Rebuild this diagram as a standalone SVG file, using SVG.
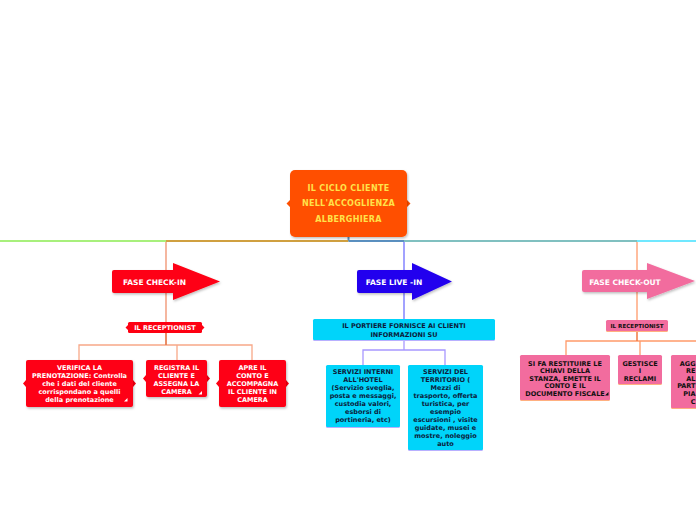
<svg xmlns="http://www.w3.org/2000/svg" width="696" height="520" viewBox="0 0 696 520">
<defs>
<filter id="sh" x="-10%" y="-10%" width="130%" height="140%"><feDropShadow dx="1" dy="1.5" stdDeviation="1" flood-color="#000" flood-opacity="0.25"/></filter>
<clipPath id="c1"><rect x="26" y="360" width="107" height="43"/></clipPath>
</defs>
<style>
text{font-family:"DejaVu Sans","Liberation Sans",sans-serif;font-weight:bold;text-anchor:middle}
.t{font-size:6.5px}
.w{fill:#ffffff}
.k{fill:#101010}
.n{fill:#0c1c3c}
.ar{font-size:7.5px;fill:#ffffff}
.title{font-size:8px;fill:#ffe24a;letter-spacing:0.3px}
.red{fill:#fe0012}
.cy{fill:#00d4fa}
.pk{fill:#f26c9e}
.lr{stroke:#f8a888;stroke-width:1.3;fill:none}
.lc{stroke:#a898ff;stroke-width:1.3;fill:none}
.lp{stroke:#ff9a6a;stroke-width:1.3;fill:none}
.e{text-anchor:end}
</style>
<rect width="696" height="520" fill="#ffffff"/>
<g id="connectors" fill="none">
<line x1="348.5" y1="237" x2="348.5" y2="241" stroke="#5a90c0" stroke-width="2"/>
<line x1="0" y1="241" x2="166" y2="241" stroke="#a8f07c" stroke-width="2"/>
<line x1="166" y1="241" x2="348.5" y2="241" stroke="#d0a040" stroke-width="2"/>
<line x1="348.5" y1="241" x2="404" y2="241" stroke="#5a90c0" stroke-width="2"/>
<line x1="404" y1="241" x2="637" y2="241" stroke="#80c0c0" stroke-width="2"/>
<line x1="637" y1="241" x2="696" y2="241" stroke="#70e8ff" stroke-width="2"/>
<line x1="166" y1="242" x2="166" y2="322" stroke="#f0906c" stroke-width="1.3"/>
<line x1="404" y1="242" x2="404" y2="319" stroke="#7070ff" stroke-width="1.3"/>
<line x1="637" y1="242" x2="637" y2="320" stroke="#ff9a6a" stroke-width="1.3"/>
<path class="lr" d="M166,333 V345 M79,360 V345 H252 V360 M177,345 V360"/>
<line x1="166" y1="333" x2="166" y2="345" stroke="#e07040" stroke-width="1.3"/>
<path class="lc" d="M404,340 V350 M363,365 V350 H445 V365"/>
<path class="lp" d="M566,355 V341 H700 M640,341 V355"/>
<line x1="637" y1="331" x2="637" y2="341" stroke="#f07840" stroke-width="1.5"/>
</g>
<g id="main">
<path d="M290,200 L286.5,203.5 L290,207 Z M407,200 L410.5,203.5 L407,207 Z" fill="#ff5000"/>
<rect x="290" y="170" width="117" height="67" rx="5" fill="#ff5000" filter="url(#sh)"/>
<text class="title" x="348.5" y="191">IL CICLO CLIENTE</text>
<text class="title" x="348.5" y="206">NELL'ACCOGLIENZA</text>
<text class="title" x="348.5" y="222">ALBERGHIERA</text>
</g>
<g id="fase-checkin">
<path d="M114,270 H173 V263 L220,281.5 L173,300 V293 H114 Q112,293 112,291 V272 Q112,270 114,270 Z" class="red" filter="url(#sh)"/>
<text class="ar" x="154.5" y="284.5">FASE CHECK-IN</text>
</g>
<g id="receptionist-1">
<path d="M128,325 L125.5,327.5 L128,330 Z M202,325 L204.5,327.5 L202,330 Z" class="red"/>
<rect x="128" y="322" width="74" height="11" rx="1.5" class="red"/>
<text class="t w" x="165" y="330">IL RECEPTIONIST</text>
</g>
<g id="verifica">
<path d="M26,380 L23,383.5 L26,387 Z M133,380 L136,383.5 L133,387 Z" class="red"/>
<rect x="26" y="360" width="107" height="47" rx="2" class="red" filter="url(#sh)"/>
<g clip-path="url(#c1)">
<text class="t w" x="79.5" y="370">VERIFICA LA</text>
<text class="t w" x="79.5" y="378">PRENOTAZIONE: Controlla</text>
<text class="t w" x="79.5" y="386">che i dati del cliente</text>
<text class="t w" x="79.5" y="394">corrispondano a quelli</text>
<text class="t w" x="79.5" y="402">della prenotazione</text>
</g>
<path d="M127.5,398 V401.5 H124 Z" fill="#ffffff"/>
</g>
<g id="registra">
<path d="M146,375 L143,378.5 L146,382 Z M207,375 L210,378.5 L207,382 Z" class="red"/>
<rect x="146" y="360" width="61" height="37" rx="2" class="red" filter="url(#sh)"/>
<text class="t w" x="176.5" y="370">REGISTRA IL</text>
<text class="t w" x="176.5" y="378">CLIENTE E</text>
<text class="t w" x="176.5" y="386">ASSEGNA LA</text>
<text class="t w" x="176.5" y="394">CAMERA</text>
<path d="M202,391 V394.5 H198.5 Z" fill="#ffffff"/>
</g>
<g id="apre">
<path d="M219,380 L216,383.5 L219,387 Z M286,380 L289,383.5 L286,387 Z" class="red"/>
<rect x="219" y="360" width="67" height="47" rx="2" class="red" filter="url(#sh)"/>
<text class="t w" x="252.5" y="370">APRE IL</text>
<text class="t w" x="252.5" y="378">CONTO  E</text>
<text class="t w" x="252.5" y="386">ACCOMPAGNA</text>
<text class="t w" x="252.5" y="394">IL CLIENTE IN</text>
<text class="t w" x="252.5" y="402">CAMERA</text>
</g>
<g id="fase-livein">
<path d="M359,270 H412 V263 L452,281.5 L412,300 V293 H359 Q357,293 357,291 V272 Q357,270 359,270 Z" fill="#2200ee" filter="url(#sh)"/>
<text class="ar" x="394" y="284.5">FASE LIVE -IN</text>
</g>
<g id="portiere">
<rect x="313" y="320" width="182" height="21" rx="1.5" fill="#b8b0ff"/>
<rect x="313" y="319" width="182" height="21" rx="1.5" class="cy"/>
<text class="t n" x="404" y="328">IL PORTIERE FORNISCE AI CLIENTI</text>
<text class="t n" x="404" y="336.5">INFORMAZIONI SU</text>
</g>
<g id="servizi-interni">
<rect x="326" y="366" width="74" height="62" rx="1.5" fill="#b8b0ff"/>
<rect x="326" y="365" width="74" height="62" rx="1.5" class="cy"/>
<text class="t n" x="363" y="374">SERVIZI INTERNI</text>
<text class="t n" x="363" y="382">ALL'HOTEL</text>
<text class="t n" x="363" y="390">(Servizio sveglia,</text>
<text class="t n" x="363" y="398">posta e messaggi,</text>
<text class="t n" x="363" y="406">custodia valori,</text>
<text class="t n" x="363" y="414">esborsi di</text>
<text class="t n" x="363" y="422">portineria, etc)</text>
</g>
<g id="servizi-territorio">
<rect x="408" y="366" width="75" height="85" rx="1.5" fill="#b8b0ff"/>
<rect x="408" y="365" width="75" height="85" rx="1.5" class="cy"/>
<text class="t n" x="445.5" y="374">SERVIZI DEL</text>
<text class="t n" x="445.5" y="382">TERRITORIO (</text>
<text class="t n" x="445.5" y="390">Mezzi di</text>
<text class="t n" x="445.5" y="398">trasporto, offerta</text>
<text class="t n" x="445.5" y="406">turistica, per</text>
<text class="t n" x="445.5" y="414">esempio</text>
<text class="t n" x="445.5" y="422">escursioni , visite</text>
<text class="t n" x="445.5" y="430">guidate, musei e</text>
<text class="t n" x="445.5" y="438">mostre, noleggio</text>
<text class="t n" x="445.5" y="446">auto</text>
</g>
<g id="fase-checkout">
<path d="M584,270 H647 V263 L695,281 L647,299 V292 H584 Q582,292 582,290 V272 Q582,270 584,270 Z" class="pk" filter="url(#sh)"/>
<text class="ar" x="625" y="284.5">FASE CHECK-OUT</text>
</g>
<g id="receptionist-2">
<rect x="606" y="321" width="62" height="11" rx="1.5" fill="#ffb080"/>
<rect x="606" y="320" width="62" height="11" rx="1.5" class="pk"/>
<text class="k" x="637" y="328.3" style="font-size:5.6px">IL RECEPTIONIST</text>
</g>
<g id="restituire">
<rect x="520" y="356" width="90" height="45" rx="1.5" fill="#ffb080"/>
<rect x="520" y="355" width="90" height="45" rx="1.5" class="pk"/>
<text class="t k" x="565" y="365.5">SI FA RESTITUIRE LE</text>
<text class="t k" x="565" y="373">CHIAVI DELLA</text>
<text class="t k" x="565" y="380.7">STANZA, EMETTE IL</text>
<text class="t k" x="565" y="388.3">CONTO E IL</text>
<text class="t k" x="565" y="396">DOCUMENTO FISCALE</text>
<path d="M608.5,392 V395.5 H605 Z" fill="#101010"/>
</g>
<g id="gestisce">
<rect x="618" y="356" width="44" height="29" rx="1.5" fill="#ffb080"/>
<rect x="618" y="355" width="44" height="29" rx="1.5" class="pk"/>
<text class="t k" x="640" y="365.5">GESTISCE</text>
<text class="t k" x="640" y="373">I</text>
<text class="t k" x="640" y="380.7">RECLAMI</text>
</g>
<g id="aggiorna">
<rect x="671" y="356" width="70" height="53" rx="1.5" fill="#ffb080"/>
<rect x="671" y="355" width="70" height="53" rx="1.5" class="pk"/>
<text class="t k e" x="695.5" y="365.5">AGG</text>
<text class="t k e" x="695.5" y="373">RE</text>
<text class="t k e" x="695.5" y="380.7">AL</text>
<text class="t k e" x="695.5" y="388.3">PART</text>
<text class="t k e" x="695.5" y="396">PIA</text>
<text class="t k e" x="695.5" y="403.6">C</text>
</g>
</svg>
